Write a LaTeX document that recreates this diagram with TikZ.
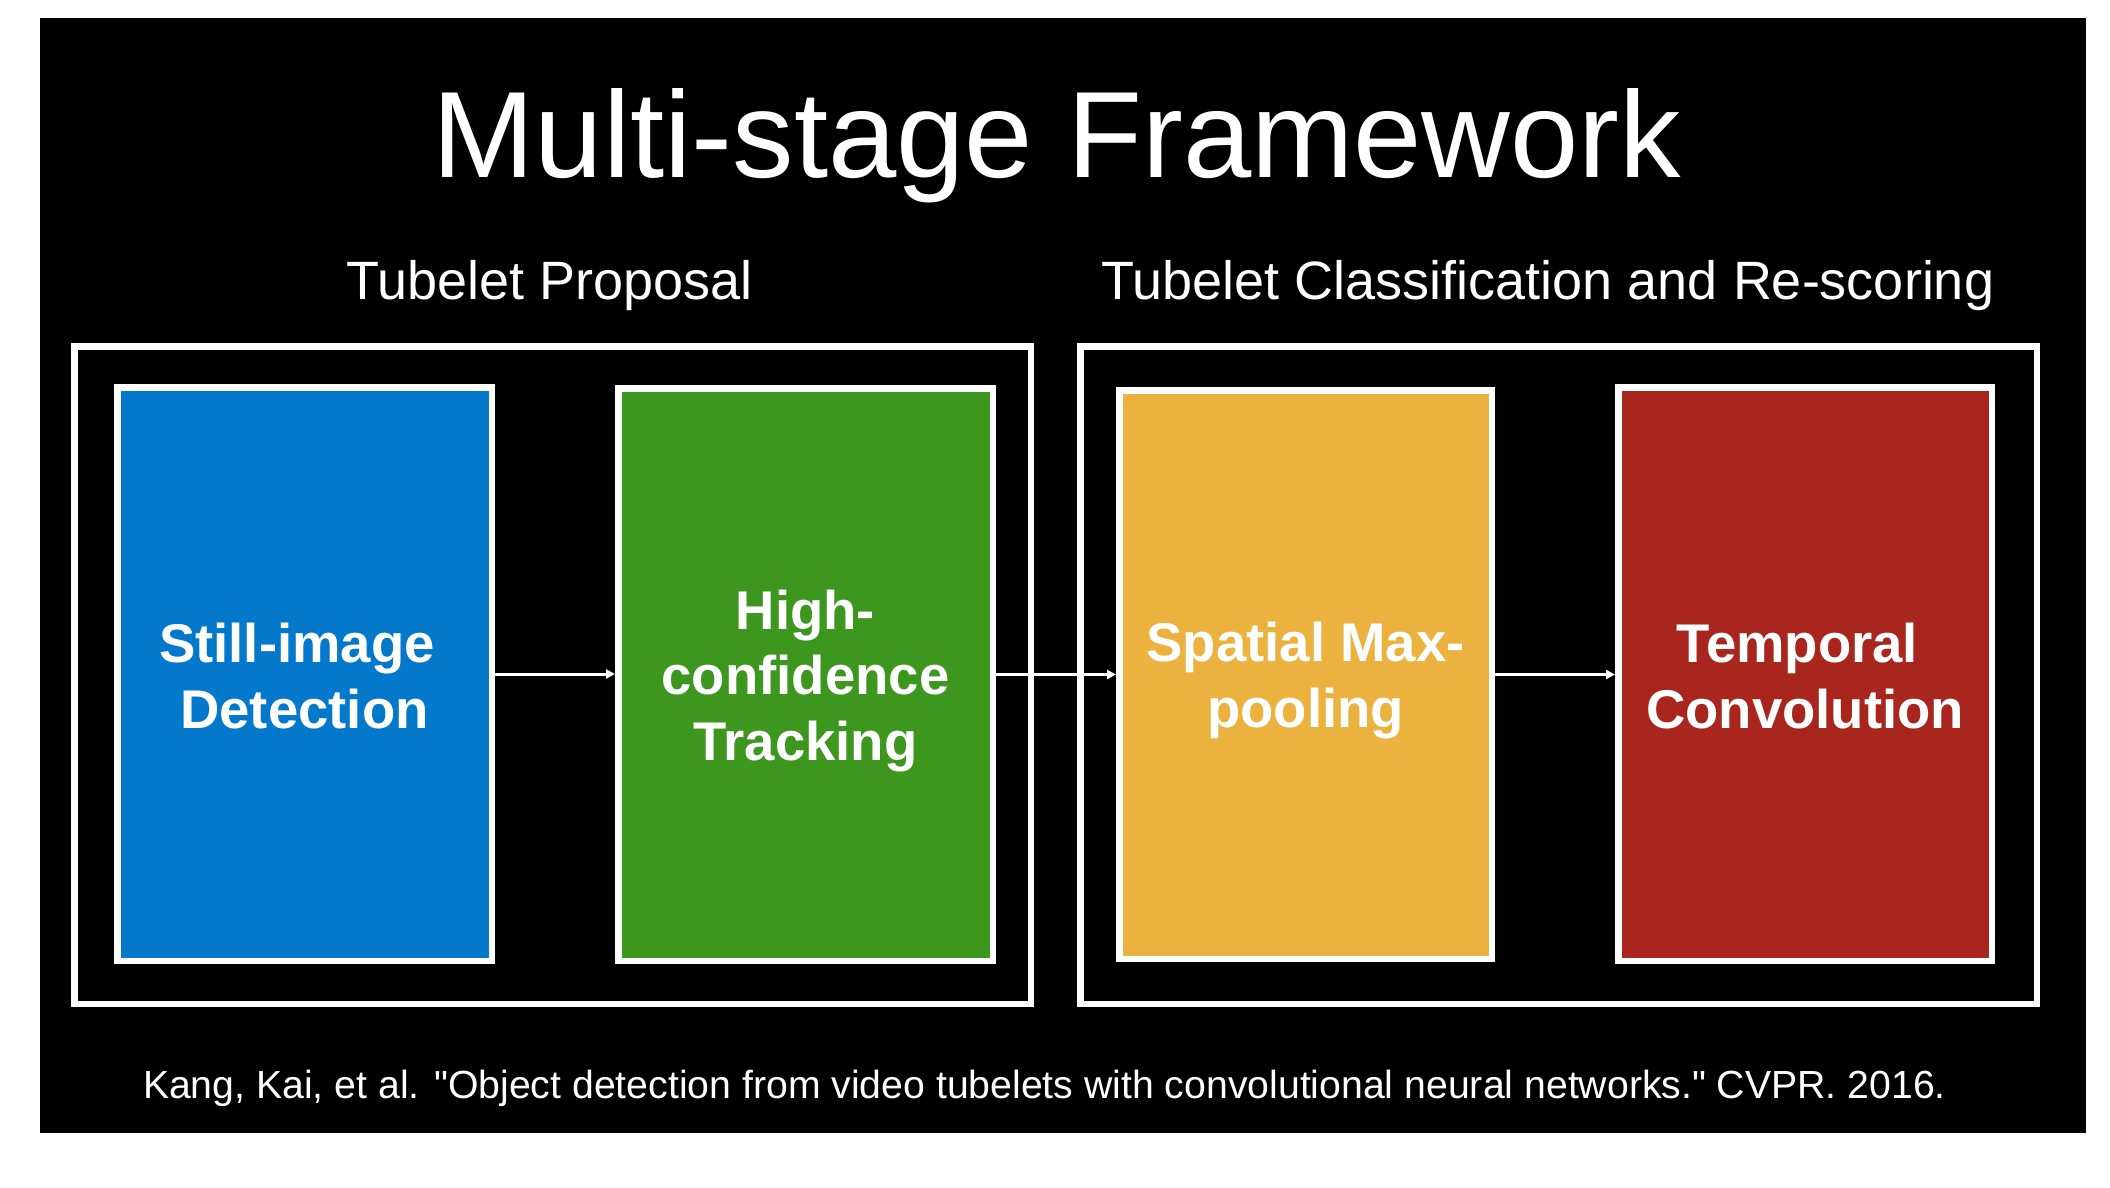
\documentclass[tikz,border=0pt]{standalone}
\usepackage{fontspec}
\setmainfont{Liberation Sans}
\newfontfamily\plainfont{Liberation Sans}
\usetikzlibrary{arrows.meta}
\definecolor{cBlue}{RGB}{4,121,204}
\definecolor{cGreen}{RGB}{61,150,30}
\definecolor{cYellow}{RGB}{236,178,64}
\definecolor{cRed}{RGB}{168,38,30}
\tikzset{
  stagebox/.style={draw=white, line width=3.25pt, rectangle, inner sep=0pt},
  groupbox/.style={draw=white, line width=3.25pt, rectangle, inner sep=0pt,
    minimum width=478.25pt, minimum height=328.75pt},
  boxtext/.style={text=white, align=center, anchor=base, inner sep=0pt,
    font=\bfseries\fontsize{27.25pt}{32.75pt}\selectfont},
  headtext/.style={text=white, anchor=base, inner sep=0pt,
    font=\fontsize{27pt}{32pt}\selectfont},
  flow/.style={draw=white, line width=1.5pt, -{Triangle[length=4.5pt,width=4.5pt]}}
}
\begin{document}
\begin{tikzpicture}[x=0.5pt,y=-0.5pt]
\useasboundingbox (0,0) rectangle (2110,1188);
\fill[white] (0,0) rectangle (2110,1188);
\fill[black] (40,18) rectangle (2086,1133);

% title and headings
\node[text=white, anchor=base, inner sep=0pt, font=\fontsize{61.4pt}{70pt}\selectfont]
  (title) at (1057,177) {Multi-stage Framework};
\node[headtext] (h1) at (549.5,299.5) {Tubelet Proposal};
\node[headtext] (h2) at (1548,299.5) {Tubelet Classification and Re-scoring};

% group boxes
\node[groupbox] (g1) at (552.5,675) {};
\node[groupbox] (g2) at (1558.5,675) {};

% stage boxes
\node[stagebox, fill=cBlue, minimum width=187.25pt, minimum height=286.75pt] (s1) at (304.5,674) {};
\node[stagebox, fill=cGreen, minimum width=187.25pt, minimum height=286.25pt] (s2) at (805.5,674.5) {};
\node[stagebox, fill=cYellow, minimum width=186.25pt, minimum height=284.25pt] (s3) at (1305.5,674.5) {};
\node[stagebox, fill=cRed, minimum width=186.75pt, minimum height=286.75pt] (s4) at (1805,674) {};

% stage texts (anchored at the baseline of the last line)
\node[boxtext] (t1) at (304.5,728) {Still-image\hspace*{.278em}\\Detection};
\node[boxtext] (t2) at (805.5,760) {High-\\confidence\hspace*{.278em}\\Tracking};
\node[boxtext] (t3) at (1305.5,727) {Spatial Max-\\pooling};
\node[boxtext] (t4) at (1805,728) {Temporal\hspace*{.278em}\\Convolution};

% connectors
\draw[flow] (s1.east) -- (s1.east -| s2.west);
\draw[flow] (s2.east) -- (s2.east -| s3.west);
\draw[flow] (s3.east) -- (s3.east -| s4.west);

% citation
\node[text=white, anchor=base, inner sep=0pt, font=\plainfont\fontsize{19.6pt}{23pt}\selectfont]
  (cite) at (1044.5,1098.5) {Kang, Kai, et al. "Object detection from video tubelets with convolutional neural networks." CVPR. 2016.};
\end{tikzpicture}
\end{document}
